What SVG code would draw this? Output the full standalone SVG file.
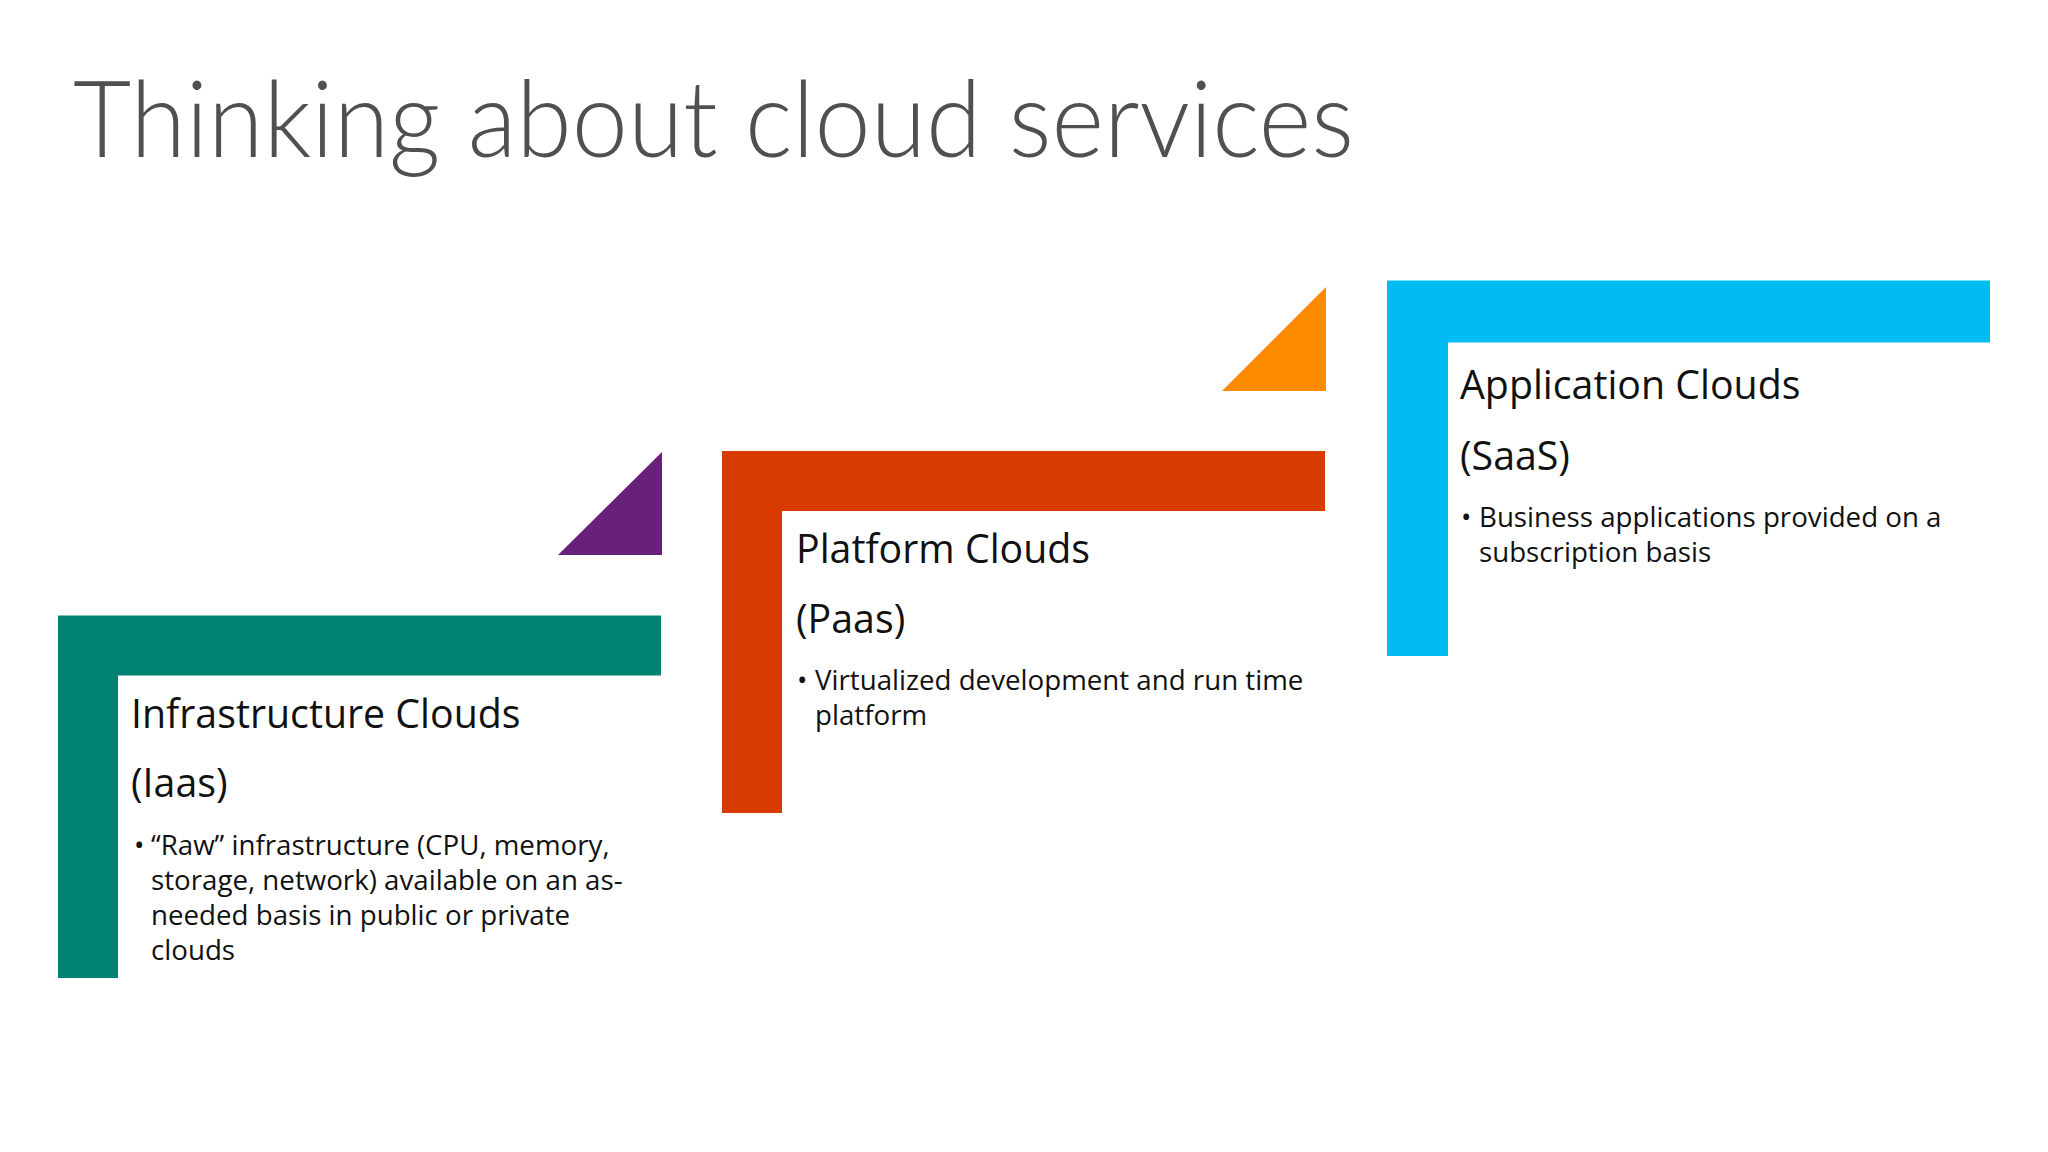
<svg xmlns="http://www.w3.org/2000/svg" width="2048" height="1152" viewBox="0 0 2048 1152">
  <style>
    .title { font-family: Lato, "Open Sans", "Liberation Sans", sans-serif; font-weight: 300; font-size: 106px; fill: #505050; }
    .head { font-family: "Open Sans", "Noto Sans", "Liberation Sans", sans-serif; font-size: 39.3px; fill: #111111; }
    .body { font-family: "Open Sans", "Noto Sans", "Liberation Sans", sans-serif; font-size: 27.7px; fill: #111111; }
    .green { fill: #008272; }
    .red { fill: #D83B01; }
    .blue { fill: #00BCF2; }
    .purple { fill: #68217A; }
    .orange { fill: #FF8C00; }
  </style>
  <rect x="0" y="0" width="2048" height="1152" fill="#FFFFFF"/>

  <text class="title" x="73" y="157" textLength="1281" lengthAdjust="spacingAndGlyphs">Thinking about cloud services</text>

  <g id="connectors">
    <polygon class="purple" points="558,555 662,555 662,452"/>
    <polygon class="orange" points="1222,391 1326,391 1326,287"/>
  </g>

  <g id="infrastructure-clouds">
    <path class="green" d="M58,615.5 H661 V675.5 H118 V978 H58 Z"/>
    <text class="head" x="131" y="728">Infrastructure Clouds</text>
    <text class="head" x="131" y="797">(Iaas)</text>
    <text class="body" x="134" y="855">•</text>
    <text class="body" x="151" y="855">“Raw” infrastructure (CPU, memory,</text>
    <text class="body" x="151" y="890">storage, network) available on an as-</text>
    <text class="body" x="151" y="925">needed basis in public or private</text>
    <text class="body" x="151" y="960">clouds</text>
  </g>

  <g id="platform-clouds">
    <path class="red" d="M722,451 H1325 V511 H782 V813 H722 Z"/>
    <text class="head" x="796" y="563">Platform Clouds</text>
    <text class="head" x="796" y="633">(Paas)</text>
    <text class="body" x="797" y="690">•</text>
    <text class="body" x="815" y="690">Virtualized development and run time</text>
    <text class="body" x="815" y="725">platform</text>
  </g>

  <g id="application-clouds">
    <path class="blue" d="M1387,280.5 H1990 V342.5 H1448 V656 H1387 Z"/>
    <text class="head" x="1460" y="399">Application Clouds</text>
    <text class="head" x="1460" y="470">(SaaS)</text>
    <text class="body" x="1461" y="527">•</text>
    <text class="body" x="1479" y="527">Business applications provided on a</text>
    <text class="body" x="1479" y="562">subscription basis</text>
  </g>
</svg>
